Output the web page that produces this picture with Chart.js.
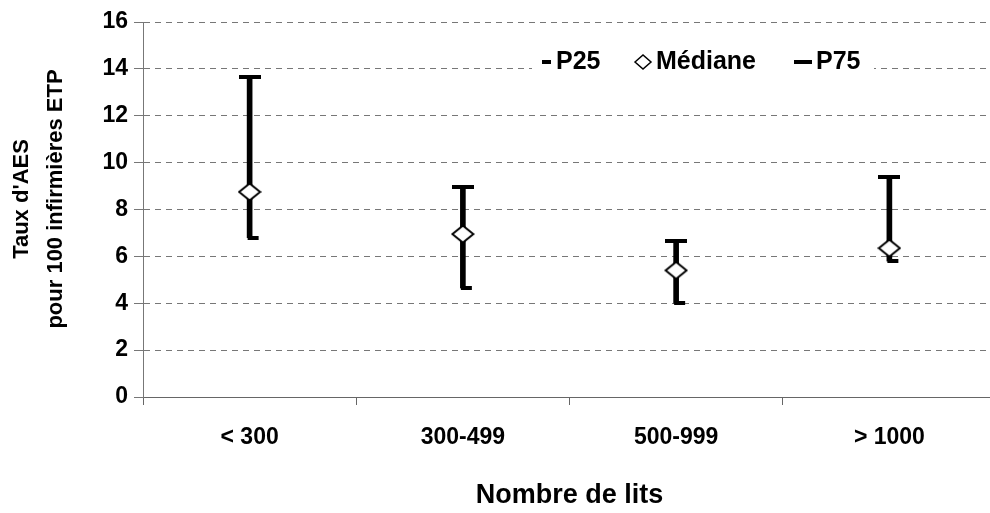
<!DOCTYPE html>
<html lang="fr">
<head>
<meta charset="utf-8">
<title>Taux d'AES selon le nombre de lits</title>
<script src="https://cdn.jsdelivr.net/npm/chart.js@4.4.1/dist/chart.umd.min.js"></script>
<style>
  html, body { margin: 0; padding: 0; background: #fff; overflow: hidden; }
  #wrap { width: 1002px; height: 513px; position: relative; }
</style>
</head>
<body>
<div id="wrap"><canvas id="myChart"></canvas></div>
<script>
const categories = ['< 300', '300-499', '500-999', '> 1000'];
const p25 = [6.8, 4.65, 4.0, 5.8];
const mediane = [8.75, 6.95, 5.4, 6.35];
const p75 = [13.65, 8.95, 6.65, 9.4];
const yTicks = [0, 2, 4, 6, 8, 10, 12, 14, 16];

const FONT = "'Liberation Sans', Arial, sans-serif";

// marker images: P25 cap only sticks out to the right, diamond is a bit wider than tall
function makeCanvas(w, h, draw) {
  const c = document.createElement('canvas');
  c.width = w;
  c.height = h;
  draw(c.getContext('2d'), w, h);
  return c;
}
const p25Cap = makeCanvas(24, 4, (g, w, h) => {
  g.fillStyle = '#000';
  g.fillRect(w / 2 - 2, 0, w / 2 - 1, h);
});
const p75Cap = makeCanvas(22, 4, (g, w, h) => {
  g.fillStyle = '#000';
  g.fillRect(0, 0, w, h);
});
const diamond = makeCanvas(24, 20, (g, w, h) => {
  g.beginPath();
  g.moveTo(1.5, h / 2);
  g.lineTo(w / 2, 1.5);
  g.lineTo(w - 1.5, h / 2);
  g.lineTo(w / 2, h - 1.5);
  g.closePath();
  g.fillStyle = '#fff';
  g.fill();
  g.lineWidth = 2;
  g.strokeStyle = '#000';
  g.stroke();
});

// legend sits inside the plot, on top of the 14 grid line
const legendInside = {
  id: 'legendInside',
  afterDatasetsDraw(chart) {
    const c = chart.ctx;
    c.save();
    c.fillStyle = '#fff';
    c.fillRect(532, 48, 342, 28);
    c.fillStyle = '#000';
    c.font = 'bold 25px ' + FONT;
    c.textBaseline = 'middle';
    const y = 62;
    // P25
    c.fillRect(542, y - 2, 9, 4);
    c.fillText('P25', 556, y);
    // Médiane
    c.beginPath();
    c.moveTo(635, y);
    c.lineTo(643, y - 7);
    c.lineTo(651, y);
    c.lineTo(643, y + 7);
    c.closePath();
    c.lineWidth = 1.5;
    c.strokeStyle = '#000';
    c.stroke();
    c.fillText('Médiane', 656, y);
    // P75
    c.fillRect(794, y - 2, 18, 4);
    c.fillText('P75', 816, y);
    c.restore();
  }
};

// two-line rotated title of the value axis
const yTitle = {
  id: 'yTitle',
  afterDraw(chart) {
    const c = chart.ctx;
    c.save();
    c.fillStyle = '#000';
    c.font = 'bold 22px ' + FONT;
    c.textAlign = 'center';
    c.textBaseline = 'middle';
    const lines = ["Taux d'AES", 'pour 100 infirmières ETP'];
    const xs = [22, 56];
    lines.forEach((t, i) => {
      c.save();
      c.translate(xs[i], 199);
      c.rotate(-Math.PI / 2);
      c.fillText(t, 0, 0);
      c.restore();
    });
    c.restore();
  }
};

const ctx = document.getElementById('myChart').getContext('2d');
new Chart(ctx, {
  type: 'bar',
  data: {
    labels: categories,
    datasets: [
      {
        label: 'intervalle',
        data: categories.map((_, i) => [p25[i], p75[i]]),
        backgroundColor: '#000',
        barThickness: 5,
        order: 10
      },
      {
        type: 'line',
        label: 'P25',
        data: p25,
        showLine: false,
        pointStyle: p25Cap,
        pointRadius: 5,
        order: 2
      },
      {
        type: 'line',
        label: 'Médiane',
        data: mediane,
        showLine: false,
        pointStyle: diamond,
        pointRadius: 5,
        order: 0
      },
      {
        type: 'line',
        label: 'P75',
        data: p75,
        showLine: false,
        pointStyle: p75Cap,
        pointRadius: 5,
        order: 1
      }
    ]
  },
  options: {
    responsive: true,
    maintainAspectRatio: false,
    animation: false,
    layout: { padding: { left: 0, right: 0, top: 22, bottom: 0 } },
    plugins: {
      legend: { display: false },
      tooltip: { enabled: false }
    },
    scales: {
      x: {
        offset: true,
        grid: {
          display: true,
          drawOnChartArea: false,
          tickLength: 8,
          color: '#666',
          offset: true
        },
        border: { color: '#666', width: 1 },
        ticks: {
          color: '#000',
          padding: 19,
          font: { family: FONT, size: 23, weight: 'bold' }
        },
        title: {
          display: true,
          text: 'Nombre de lits',
          color: '#000',
          padding: { top: 0, bottom: 1 },
          font: { family: FONT, size: 27, weight: 'bold' }
        },
        afterFit(scale) {
          scale.height = 116;
          scale.paddingLeft = 0;
          scale.paddingRight = 0;
        }
      },
      y: {
        min: 0,
        max: 16,
        afterBuildTicks(scale) {
          scale.ticks = yTicks.map(v => ({ value: v }));
        },
        grid: {
          color: '#777',
          tickColor: '#777',
          tickLength: 9,
          lineWidth: 1
        },
        border: { color: '#777', width: 1, dash: [6, 5] },
        ticks: {
          color: '#000',
          padding: 6,
          font: { family: FONT, size: 23, weight: 'bold' }
        },
        afterFit(scale) { scale.width = 143; }
      }
    }
  },
  plugins: [legendInside, yTitle]
});
</script>
</body>
</html>
